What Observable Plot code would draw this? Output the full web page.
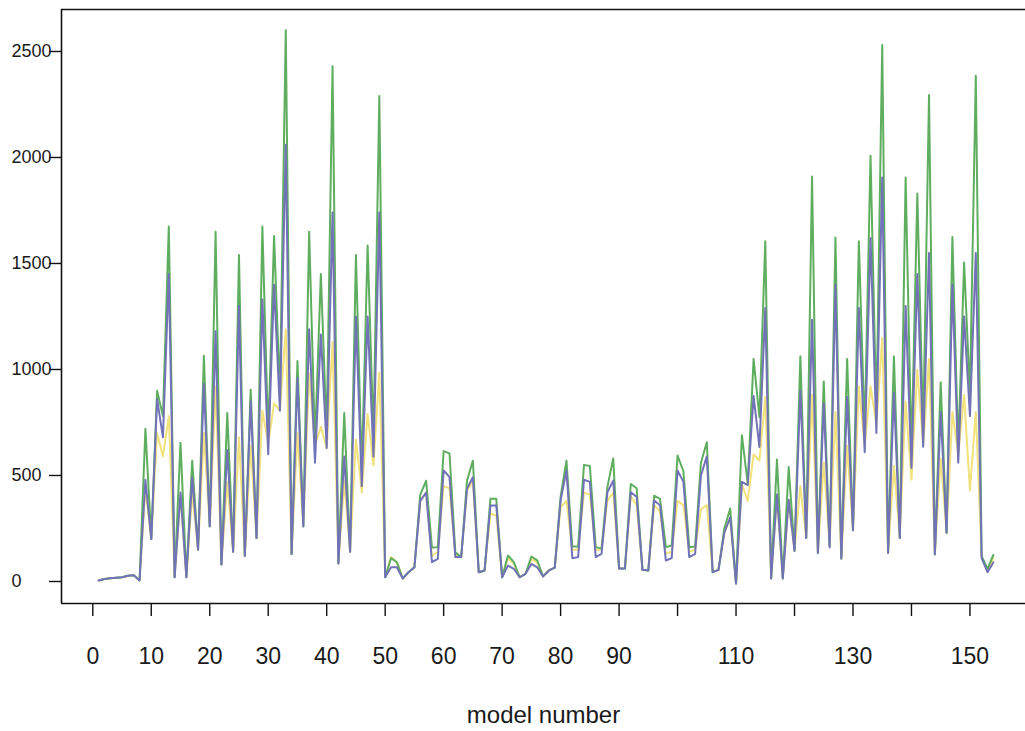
<!DOCTYPE html>
<html>
<head>
<meta charset="utf-8">
<script src="https://cdn.jsdelivr.net/npm/d3@7"></script>
<script src="https://cdn.jsdelivr.net/npm/@observablehq/plot@0.6"></script>
<style>
  html, body { margin: 0; padding: 0; background: #fff; overflow: hidden; }
</style>
</head>
<body>
<div id="chart"></div>
<script>
// Series (model number 1..154)
const greenValues = [
  5,12,15,18,20,27,30,5,
  720,200,900,780,1675,20,655,20,570,150,1065,260,
  1650,80,795,140,1540,120,905,205,1675,680,
  1630,880,2600,130,1040,260,1650,650,1450,700,
  2430,85,795,140,1540,520,1585,680,2290,20,
  110,91,14,44,67,410,475,160,162,615,
  604,138,115,476,570,44,52,390,390,20,
  123,91,20,36,118,100,24,52,65,400,
  570,165,165,550,545,162,155,445,580,61,
  61,460,440,55,52,405,390,162,170,594,
  520,162,165,560,657,44,55,250,344,-10,
  690,460,1050,775,1605,14,576,14,540,145,
  1062,205,1910,135,943,170,1623,108,1050,242,
  1605,700,2008,780,2530,135,1062,205,1905,600,
  1830,700,2295,128,940,230,1625,620,1505,880,
  2385,120,60,125
];
const blueValues = [
  5,12,15,18,20,27,30,5,
  480,200,860,680,1450,20,420,20,490,150,930,260,
  1180,80,620,140,1300,120,850,205,1330,600,
  1400,806,2060,130,960,260,1190,560,1165,630,
  1740,85,590,140,1250,450,1250,590,1740,20,
  67,67,14,44,67,380,420,91,107,524,
  492,115,115,438,492,44,52,358,358,20,
  75,60,20,36,83,67,24,52,65,382,
  524,110,115,480,470,115,130,421,476,61,
  61,421,400,55,52,382,360,99,110,524,
  470,115,130,500,590,44,55,230,303,-10,
  470,455,875,634,1290,14,410,14,385,145,
  900,205,1235,135,840,160,1400,108,870,242,
  1290,610,1620,700,1905,135,890,205,1300,535,
  1450,636,1550,128,800,230,1400,560,1250,780,
  1550,110,44,90
];
const yellowValues = [
  5,12,15,18,20,27,30,5,
  440,200,700,590,780,20,410,20,420,150,700,260,
  920,80,470,140,680,120,640,205,806,650,
  840,806,1190,130,700,260,980,640,730,630,
  1130,85,476,140,670,420,790,547,985,20,
  115,91,14,44,67,380,420,120,140,450,
  440,125,115,430,470,44,52,320,311,20,
  110,85,20,36,105,90,24,52,65,350,
  380,150,150,420,410,150,150,380,420,61,
  61,400,360,55,52,360,330,130,140,380,
  360,140,150,340,360,44,55,230,300,-10,
  460,380,600,570,870,14,400,14,380,145,
  450,205,880,135,560,170,800,108,640,242,
  920,640,920,740,1150,135,545,205,850,480,
  1000,640,1050,128,580,230,800,600,880,430,
  800,115,50,110
];

const xTicks = [0,10,20,30,40,50,60,70,80,90,100,110,120,130,140,150];
const xTickLabels = ["0","10","20","30","40","50","60","70","80","90","","110","","130","","150"];
const yTicks = [0,500,1000,1500,2000,2500];
const yTickLabels = ["0","500","1000","1500","2000","2500"];
const xTitle = "model number";

const xDomain = [-5.35, 159.5];
const yDomain = [-103.8, 2698];

const xLabelOf = new Map(xTicks.map((t, i) => [t, xTickLabels[i]]));
const yLabelOf = new Map(yTicks.map((t, i) => [t, yTickLabels[i]]));
const modelOf = (d, i) => i + 1;

const chart = Plot.plot({
  width: 1025,
  height: 731,
  marginLeft: 61,
  marginRight: 0,
  marginTop: 9,
  marginBottom: 128,
  style: {fontFamily: "'Liberation Sans', Arial, Helvetica, sans-serif", color: "#1a1a1a", background: "#fff", overflow: "visible"},
  x: {domain: xDomain},
  y: {domain: yDomain},
  marks: [
    Plot.lineY(yellowValues, {x: modelOf, y: d => d, stroke: "#f1e27c", strokeWidth: 2}),
    Plot.lineY(greenValues, {x: modelOf, y: d => d, stroke: "#5fae5f", strokeWidth: 2}),
    Plot.lineY(blueValues, {x: modelOf, y: d => d, stroke: "#7272b8", strokeWidth: 2}),
    Plot.ruleX([xDomain[0]], {stroke: "#111", strokeWidth: 1.6}),
    Plot.ruleY([yDomain[0]], {stroke: "#111", strokeWidth: 1.6}),
    Plot.ruleY([yDomain[1]], {stroke: "#111", strokeWidth: 1.6}),
    Plot.axisX({ticks: xTicks, tickFormat: d => xLabelOf.get(d), tickSize: 13, tickPadding: 31, fontSize: 23, label: null, stroke: "#111", strokeWidth: 1.4}),
    Plot.axisY({ticks: yTicks, tickFormat: d => yLabelOf.get(d), tickSize: 12, tickPadding: 38, textAnchor: "start", fontSize: 18, label: null, stroke: "#111", strokeWidth: 1.4}),
    Plot.text([xTitle], {text: d => d, frameAnchor: "bottom", dy: 119, fontSize: 24, fill: "#1a1a1a"})
  ]
});
document.getElementById("chart").appendChild(chart);
</script>
</body>
</html>
